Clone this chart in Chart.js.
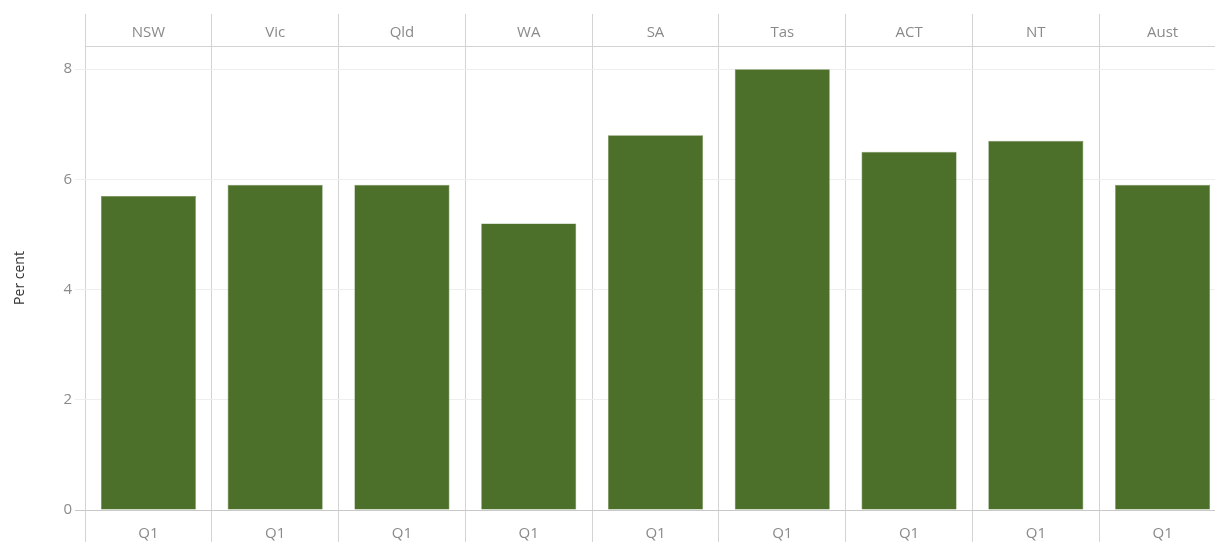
<!DOCTYPE html>
<html>
<head>
<meta charset="utf-8">
<script src="https://cdn.jsdelivr.net/npm/chart.js@4"></script>
<style>
  html, body { margin: 0; padding: 0; background: #fff; overflow: hidden; }
  #wrap { width: 1226px; height: 542px; }
</style>
</head>
<body>
<div id="wrap"><canvas id="chart"></canvas></div>
<script>
// 주별 값 (Per cent, Q1)
const states = ['NSW', 'Vic', 'Qld', 'WA', 'SA', 'Tas', 'ACT', 'NT', 'Aust'];
const quarterLabels = ['Q1', 'Q1', 'Q1', 'Q1', 'Q1', 'Q1', 'Q1', 'Q1', 'Q1'];
const values = [5.7, 5.9, 5.9, 5.2, 6.8, 8.0, 6.5, 6.7, 5.9];
const yTicks = [0, 2, 4, 6, 8];

const labelFont = { family: "'Open Sans', Lato, sans-serif", size: 15 };
const lineGrey = '#d3d3d3';

function renderChart() {
    const ctx = document.getElementById('chart').getContext('2d');
    new Chart(ctx, {
        type: 'bar',
        data: {
            labels: states,
            datasets: [{
                data: values,
                backgroundColor: '#4c6f29',
                borderColor: '#6d8a4f',
                borderWidth: 0.6,
                barPercentage: 0.75,
                categoryPercentage: 1,
                xAxisID: 'x',
                yAxisID: 'y'
            }]
        },
        options: {
            responsive: false,
            animation: false,
            layout: { padding: 0 },
            plugins: {
                legend: { display: false },
                tooltip: { enabled: true }
            },
            scales: {
                x: {
                    position: 'top',
                    offset: true,
                    grid: {
                        offset: true,
                        color: lineGrey,
                        tickLength: 32
                    },
                    border: { color: lineGrey },
                    ticks: { color: '#8a8a8a', font: labelFont, padding: -28 },
                    afterFit: s => { s.height = 46; } // 헤더 높이 고정
                },
                x2: {
                    type: 'category',
                    position: 'bottom',
                    labels: quarterLabels,
                    offset: true,
                    grid: {
                        offset: true,
                        drawOnChartArea: false,
                        color: lineGrey,
                        tickLength: 32
                    },
                    border: { color: '#c8c8c8' },
                    ticks: { color: '#8a8a8a', font: labelFont, padding: -17 },
                    afterFit: s => { s.height = 32; }
                },
                y: {
                    min: 0,
                    max: 8.42,
                    afterBuildTicks: s => { s.ticks = yTicks.map(v => ({ value: v })); },
                    grid: {
                        color: c => c.tick && c.tick.value === 0 ? '#c8c8c8' : '#eeeeee',
                        tickLength: 10
                    },
                    border: { display: false },
                    ticks: { color: '#8a8a8a', font: labelFont, padding: 3 },
                    title: {
                        display: true,
                        text: 'Per cent',
                        color: '#333',
                        font: { family: "'Open Sans', Lato, sans-serif", size: 14 },
                        padding: { top: 12, bottom: 0 }
                    },
                    afterFit: s => { s.width = 85; }
                }
            }
        }
    });
}

const canvas = document.getElementById('chart');
canvas.width = 1226;
canvas.height = 542;
renderChart();
</script>
</body>
</html>
